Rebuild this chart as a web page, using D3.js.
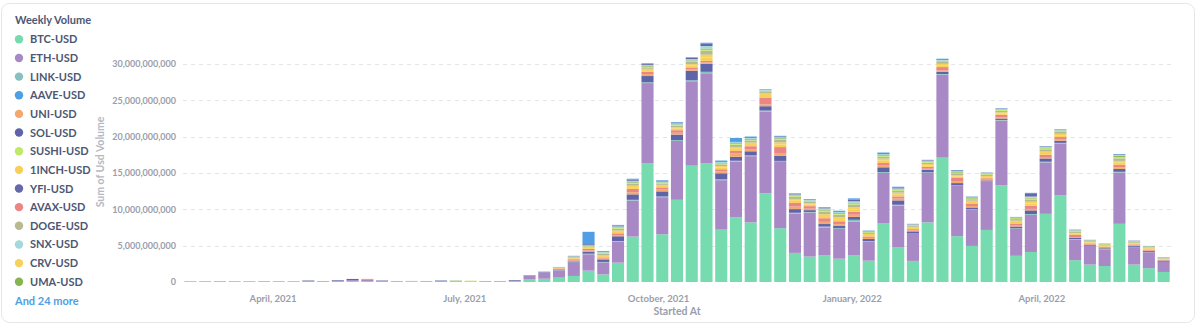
<!DOCTYPE html>
<html>
<head>
<meta charset="utf-8">
<script src="https://cdn.jsdelivr.net/npm/d3@7"></script>
<style>
  body { margin: 0; background: #fff; font-family: Lato, "Noto Sans", sans-serif; }
  svg { display: block; }
</style>
</head>
<body>
<div id="chart"></div>
<script>
// week start of each bucket
var weeks = [
  "2021-02-21","2021-02-28","2021-03-07","2021-03-14","2021-03-21","2021-03-28","2021-04-04","2021-04-11",
  "2021-04-18","2021-04-25","2021-05-02","2021-05-09","2021-05-16","2021-05-23","2021-05-30","2021-06-06",
  "2021-06-13","2021-06-20","2021-06-27","2021-07-04","2021-07-11","2021-07-18","2021-07-25","2021-08-01",
  "2021-08-08","2021-08-15","2021-08-22","2021-08-29","2021-09-05","2021-09-12","2021-09-19","2021-09-26",
  "2021-10-03","2021-10-10","2021-10-17","2021-10-24","2021-10-31","2021-11-07","2021-11-14","2021-11-21",
  "2021-11-28","2021-12-05","2021-12-12","2021-12-19","2021-12-26","2022-01-02","2022-01-09","2022-01-16",
  "2022-01-23","2022-01-30","2022-02-06","2022-02-13","2022-02-20","2022-02-27","2022-03-06","2022-03-13",
  "2022-03-20","2022-03-27","2022-04-03","2022-04-10","2022-04-17","2022-04-24","2022-05-01","2022-05-08",
  "2022-05-15","2022-05-22","2022-05-29"
];

// weekly volume per pair, billions of USD
var btcUsd = [0.10,0.10,0.11,0.10,0.10,0.11,0.10,0.10,0.06,0.12,0.05,0.08,0.06,0.06,0.12,0.05,0.12,0.06,0.10,0.06,0.12,0.12,0.06,
  0.40,0.45,0.60,0.83,1.56,1.05,2.66,6.25,16.35,6.56,11.3,16.0,16.3,7.2,8.9,8.2,12.2,7.4,4.0,3.5,3.7,3.2,3.7,2.93,8.1,4.8,2.9,8.2,17.1,6.3,4.96,7.16,13.3,3.6,4.13,9.37,11.9,3.0,2.4,2.2,8.0,2.4,1.9,1.38];
var ethUsd = [0.02,0.02,0.02,0.02,0.02,0.02,0.02,0.02,0.04,0.02,0.06,0.18,0.22,0.04,0.02,0.04,0.02,0.04,0.04,0.04,0.02,0.02,0.08,
  0.50,0.85,1.0,1.8,2.25,1.65,2.9,4.95,11.0,5.1,8.1,11.6,12.4,6.8,7.65,9.1,11.25,9.1,5.4,6.05,3.8,4.1,4.6,2.6,6.9,5.7,3.7,6.8,11.4,6.9,4.96,6.6,8.9,3.7,5.1,7.07,7.15,2.85,2.55,2.3,7.05,2.4,2.2,1.38];
var linkUsd = [0,0,0,0,0,0,0,0,0,0,0,0,0,0,0,0,0,0,0,0,0,0,0,
  0.01,0.02,0.03,0.05,0.08,0.06,0.08,0.10,0.12,0.10,0.12,0.15,0.20,0.15,0.12,0.12,0.12,0.15,0.12,0.08,0.12,0.10,0.25,0.08,0.12,0.12,0.06,0.08,0.10,0.10,0.08,0.06,0.08,0.08,0.12,0.10,0.08,0.06,0.04,0.04,0.10,0.04,0.04,0.03];
var aaveUsd = [0,0,0,0,0,0,0,0,0,0,0,0,0,0,0,0,0,0,0,0,0,0,0,
  0.01,0,0.01,0.02,1.70,0.04,0.08,0.10,0.10,0.08,0.08,0.10,0.15,0.07,0.46,0.08,0.05,0.08,0.06,0.05,0.08,0.08,0.15,0.04,0.09,0.08,0.03,0.04,0.05,0.05,0.04,0.03,0.04,0.02,0.16,0.05,0.04,0.02,0.02,0.01,0.05,0.01,0.01,0.01];
var uniUsd = [0,0,0,0,0,0,0,0,0,0,0,0,0,0,0,0,0,0,0,0,0,0,0,
  0.01,0.02,0.05,0.12,0.15,0.12,0.15,0.30,0.28,0.25,0.25,0.20,0.20,0.25,0.45,0.25,0.25,0.30,0.35,0.20,0.30,0.25,0.30,0.15,0.30,0.25,0.12,0.15,0.20,0.20,0.20,0.10,0.15,0.12,0.20,0.20,0.15,0.12,0.06,0.06,0.20,0.06,0.06,0.04];
var solUsd = [0,0,0,0,0,0,0,0,0.10,0,0.12,0.16,0.08,0.10,0,0,0,0.10,0,0,0,0,0.10,
  0.03,0.06,0.10,0.15,0.30,0.35,0.65,0.75,0.85,0.70,0.75,1.30,1.10,0.80,0.55,0.55,0.60,0.70,0.50,0.25,0.35,0.30,0.40,0.30,0.65,0.60,0.30,0.35,0.30,0.30,0.25,0.15,0.20,0.25,0.50,0.45,0.30,0.15,0.10,0.10,0.40,0.12,0.12,0.15];
var sushiUsd = [0,0,0,0,0,0,0,0,0,0,0,0,0,0,0,0,0,0,0,0.08,0,0,0,
  0,0.01,0.02,0.05,0.06,0.08,0.10,0.12,0.10,0.10,0.10,0.12,0.15,0.12,0.12,0.10,0.10,0.12,0.12,0.10,0.15,0.12,0.15,0.08,0.12,0.10,0.08,0.10,0.10,0.10,0.10,0.08,0.10,0.10,0.15,0.15,0.12,0.10,0.06,0.06,0.20,0.08,0.08,0.06];
var oneInchUsd = [0,0,0,0,0,0,0,0,0,0,0,0,0.04,0,0,0,0,0,0,0,0,0,0,
  0,0.02,0.04,0.08,0.12,0.18,0.20,0.25,0.22,0.20,0.22,0.25,0.45,0.25,0.30,0.30,0.35,0.35,0.30,0.20,0.30,0.30,0.35,0.20,0.35,0.30,0.18,0.20,0.25,0.20,0.20,0.15,0.20,0.20,0.30,0.25,0.25,0.15,0.10,0.10,0.30,0.10,0.12,0.08];
var yfiUsd = [0,0,0,0,0,0,0,0,0,0,0,0,0,0,0,0,0,0,0,0,0,0,0,
  0,0,0.02,0.04,0.15,0.08,0.12,0.18,0.12,0.10,0.10,0.15,0.30,0.10,0.10,0.10,0.05,0.10,0.10,0.08,0.10,0.10,0.25,0.06,0.12,0.15,0.04,0.07,0.10,0.10,0.06,0.05,0.05,0.04,0.35,0.06,0.05,0.04,0.02,0.02,0.08,0.03,0.02,0.02];
var avaxUsd = [0,0,0,0,0,0,0,0,0,0,0,0,0,0,0,0,0,0,0,0,0,0,0,
  0,0.03,0.08,0.18,0.20,0.15,0.25,0.45,0.32,0.30,0.35,0.25,0.20,0.30,0.35,0.45,0.95,0.90,0.50,0.35,0.50,0.40,0.40,0.20,0.30,0.30,0.18,0.25,0.45,0.50,0.35,0.20,0.35,0.30,0.45,0.30,0.35,0.30,0.15,0.14,0.35,0.15,0.12,0.08];
var dogeUsd = [0,0,0,0,0,0,0,0,0,0,0,0,0,0,0,0.06,0,0,0,0,0,0,0,
  0,0.02,0.05,0.12,0.10,0.20,0.25,0.25,0.20,0.18,0.22,0.30,0.55,0.25,0.30,0.30,0.20,0.35,0.30,0.20,0.35,0.35,0.35,0.15,0.25,0.25,0.15,0.20,0.25,0.25,0.20,0.18,0.22,0.22,0.30,0.30,0.25,0.15,0.12,0.10,0.35,0.12,0.10,0.08];
var snxUsd = [0,0,0,0,0,0,0,0,0,0,0,0,0,0,0,0,0,0,0,0,0,0,0,
  0,0.01,0.02,0.05,0.08,0.10,0.15,0.20,0.15,0.12,0.15,0.18,0.35,0.15,0.15,0.15,0.10,0.15,0.12,0.10,0.20,0.15,0.20,0.08,0.15,0.15,0.06,0.10,0.12,0.12,0.10,0.08,0.08,0.06,0.15,0.10,0.08,0.06,0.04,0.04,0.12,0.05,0.04,0.03];
var crvUsd = [0,0,0,0,0,0,0,0,0,0,0,0,0.04,0,0,0,0,0,0,0,0,0,0,
  0,0.01,0.03,0.07,0.10,0.15,0.18,0.20,0.18,0.15,0.18,0.20,0.40,0.18,0.25,0.20,0.20,0.30,0.25,0.18,0.25,0.25,0.30,0.15,0.25,0.22,0.15,0.18,0.20,0.20,0.18,0.15,0.15,0.18,0.25,0.20,0.20,0.12,0.08,0.08,0.25,0.08,0.10,0.06];
var umaUsd = [0,0,0,0,0,0,0,0,0,0,0,0,0,0,0,0,0,0,0.05,0,0,0,0,
  0,0,0.02,0.04,0.05,0.06,0.08,0.10,0.08,0.06,0.08,0.10,0.15,0.08,0.10,0.10,0.08,0.10,0.08,0.06,0.10,0.10,0.10,0.05,0.10,0.08,0.05,0.08,0.08,0.08,0.07,0.06,0.08,0.08,0.10,0.10,0.08,0.08,0.06,0.05,0.15,0.06,0.05,0.04];

var seriesNames = ["BTC-USD","ETH-USD","LINK-USD","AAVE-USD","UNI-USD","SOL-USD","SUSHI-USD",
  "1INCH-USD","YFI-USD","AVAX-USD","DOGE-USD","SNX-USD","CRV-USD","UMA-USD"];
var seriesValues = [btcUsd, ethUsd, linkUsd, aaveUsd, uniUsd, solUsd, sushiUsd,
  oneInchUsd, yfiUsd, avaxUsd, dogeUsd, snxUsd, crvUsd, umaUsd];
var seriesColors = ["#76dcb0","#a989c5","#88bfc0","#509ee3","#f2a86f","#5f63a8","#c2e86a",
  "#f9cf5c","#6668ab","#ea8683","#b7b98e","#a4d9dc","#f7d25a","#86b54f"];
// drawing order, bottom of the bar first
var stackOrder = ["BTC-USD","ETH-USD","LINK-USD","SOL-USD","UNI-USD","AVAX-USD","1INCH-USD",
  "CRV-USD","DOGE-USD","SUSHI-USD","UMA-USD","SNX-USD","YFI-USD","AAVE-USD"];
var hiddenCount = 24;

var yTicks = [0, 5, 10, 15, 20, 25, 30];
var xTicks = ["2021-04-01","2021-07-01","2021-10-01","2022-01-01","2022-04-01"];

var width = 1200, height = 326;
var margin = {top: 42, right: 29, bottom: 44, left: 183};

var parseDay = d3.timeParse("%Y-%m-%d");

var rows = weeks.map(function(w, i) {
  var row = {date: parseDay(w)};
  seriesNames.forEach(function(name, j) { row[name] = seriesValues[j][i]; });
  return row;
});

var colorOf = d3.scaleOrdinal().domain(seriesNames).range(seriesColors);

var svg = d3.select("#chart")
  .append("svg")
    .attr("width", width)
    .attr("height", height);

// card outline
svg.append("rect")
  .attr("x", 1.5)
  .attr("y", 3.5)
  .attr("width", 1193)
  .attr("height", 319)
  .attr("rx", 8)
  .attr("fill", "#fff")
  .attr("stroke", "#e4e6ea");

var halfWeek = 3.5 * 24 * 3600 * 1000;
var x = d3.scaleTime()
  .domain([new Date(rows[0].date.getTime() - halfWeek), new Date(rows[rows.length - 1].date.getTime() + halfWeek)])
  .range([margin.left, width - margin.right]);

var y = d3.scaleLinear()
  .domain([0, 33])
  .range([height - margin.bottom, margin.top]);

// grid lines
svg.append("g")
  .selectAll("line")
  .data(yTicks.filter(function(t) { return t > 0; }))
  .enter()
  .append("line")
    .attr("x1", margin.left)
    .attr("x2", width - margin.right)
    .attr("y1", function(d) { return Math.round(y(d)) + 0.5; })
    .attr("y2", function(d) { return Math.round(y(d)) + 0.5; })
    .attr("stroke", "#e3e5e9")
    .attr("stroke-dasharray", "4,4");

// y axis
var yAxis = svg.append("g")
  .attr("transform", "translate(" + (margin.left - 7) + ",0)")
  .call(d3.axisLeft(y).tickValues(yTicks).tickSize(0).tickPadding(0)
    .tickFormat(function(d) { return d3.format(",")(d * 1e9); }));
yAxis.select(".domain").remove();
yAxis.selectAll("text")
  .attr("font-family", "Lato, sans-serif")
  .attr("font-weight", "700")
  .attr("font-size", "9px")
  .attr("fill", "#9a9eab");

// x axis
var xAxis = svg.append("g")
  .attr("transform", "translate(0," + (height - margin.bottom + 13) + ")")
  .call(d3.axisBottom(x).tickValues(xTicks.map(parseDay)).tickSize(0).tickPadding(0)
    .tickFormat(d3.timeFormat("%B, %Y")));
xAxis.select(".domain").remove();
xAxis.selectAll("text")
  .attr("font-family", "Lato, sans-serif")
  .attr("font-weight", "700")
  .attr("font-size", "9.5px")
  .attr("fill", "#9a9eab");

// axis titles
svg.append("text")
  .attr("transform", "translate(104," + ((margin.top + height - margin.bottom) / 2) + ") rotate(-90)")
  .attr("text-anchor", "middle")
  .attr("font-family", "Lato, sans-serif")
  .attr("font-weight", "700")
  .attr("font-size", "10.5px")
  .attr("fill", "#b5b9c3")
  .text("Sum of Usd Volume");

svg.append("text")
  .attr("x", (margin.left + width - margin.right) / 2)
  .attr("y", 315)
  .attr("text-anchor", "middle")
  .attr("font-family", "Lato, sans-serif")
  .attr("font-weight", "700")
  .attr("font-size", "10.5px")
  .attr("fill", "#9a9eab")
  .text("Started At");

// stacked bars
var stacked = d3.stack().keys(stackOrder)(rows);
var barWidth = (x(rows[1].date) - x(rows[0].date)) * 0.82;

svg.append("g")
  .selectAll("g")
  .data(stacked)
  .enter()
  .append("g")
    .attr("fill", function(d) { return colorOf(d.key); })
  .selectAll("rect")
  .data(function(d) { return d; })
  .enter()
  .append("rect")
    .attr("x", function(d) { return x(d.data.date) - barWidth / 2; })
    .attr("y", function(d) { return y(d[1]); })
    .attr("width", barWidth)
    .attr("height", function(d) { return Math.max(0, y(d[0]) - y(d[1])); });

// legend
var legend = svg.append("g");
legend.append("text")
  .attr("x", 15)
  .attr("y", 24)
  .attr("font-family", "Lato, sans-serif")
  .attr("font-weight", "700")
  .attr("font-size", "11px")
  .attr("fill", "#4c5773")
  .text("Weekly Volume");

var items = legend.selectAll(".item")
  .data(seriesNames)
  .enter()
  .append("g")
    .attr("class", "item")
    .attr("transform", function(d, i) { return "translate(0," + (39.3 + i * 18.65) + ")"; });
items.append("circle")
  .attr("cx", 19)
  .attr("cy", 0)
  .attr("r", 4.2)
  .attr("fill", function(d) { return colorOf(d); });
items.append("text")
  .attr("x", 30)
  .attr("y", 4)
  .attr("font-family", "Lato, sans-serif")
  .attr("font-weight", "700")
  .attr("font-size", "11px")
  .attr("fill", "#4c5773")
  .text(function(d) { return d; });

legend.append("text")
  .attr("x", 15)
  .attr("y", 304.5)
  .attr("font-family", "Lato, sans-serif")
  .attr("font-weight", "700")
  .attr("font-size", "11px")
  .attr("fill", "#509ee3")
  .text("And " + hiddenCount + " more");
</script>
</body>
</html>
